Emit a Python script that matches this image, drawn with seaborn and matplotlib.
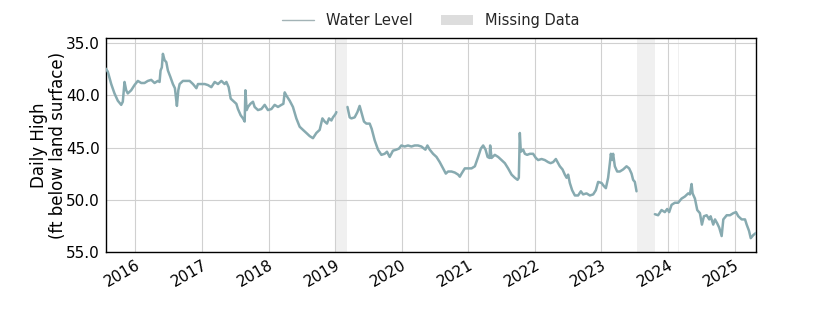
import numpy as np
import pandas as pd
import matplotlib
matplotlib.use("Agg")
import matplotlib.pyplot as plt
from matplotlib.lines import Line2D
from matplotlib.patches import Patch
import seaborn as sns

# ---- data (decimal years, ft below land surface) ----
seg1_t = [2015.549, 2015.583, 2015.635, 2015.684, 2015.734, 2015.785, 2015.809, 2015.835, 2015.860,
          2015.884, 2015.935, 2015.985, 2016.035, 2016.086, 2016.135, 2016.185, 2016.236, 2016.286,
          2016.335, 2016.361, 2016.376, 2016.395, 2016.411, 2016.436, 2016.462, 2016.486, 2016.522,
          2016.561, 2016.591, 2016.612, 2016.621, 2016.642, 2016.662, 2016.711, 2016.762, 2016.812,
          2016.862, 2016.913, 2016.937, 2016.988, 2017.038, 2017.087, 2017.138, 2017.188, 2017.238,
          2017.289, 2017.338, 2017.364, 2017.398, 2017.429, 2017.463, 2017.514, 2017.538, 2017.579,
          2017.614, 2017.639, 2017.650, 2017.669, 2017.689, 2017.725, 2017.764, 2017.789, 2017.839,
          2017.890, 2017.940, 2017.989, 2018.041, 2018.090, 2018.140, 2018.191, 2018.221, 2018.241,
          2018.266, 2018.316, 2018.365, 2018.416, 2018.466, 2018.516, 2018.567, 2018.617, 2018.666,
          2018.717, 2018.767, 2018.808, 2018.842, 2018.877, 2018.907, 2018.943, 2018.967, 2019.003,
          2019.018]
seg1_v = [37.4, 37.7, 38.9, 39.8, 40.5, 40.9, 40.6, 38.7, 39.5,
          39.8, 39.5, 39.0, 38.6, 38.8, 38.8, 38.6, 38.5, 38.8,
          38.6, 38.7, 37.6, 37.3, 36.0, 36.6, 36.8, 37.6, 38.2,
          38.9, 39.3, 40.5, 41.0, 39.5, 38.9, 38.6, 38.6, 38.6,
          38.9, 39.3, 38.9, 38.9, 38.9, 39.0, 39.2, 38.7, 38.9,
          38.6, 38.9, 38.7, 39.2, 40.3, 40.5, 40.8, 41.3, 41.9,
          42.2, 42.5, 39.5, 41.4, 41.1, 40.8, 40.6, 41.1, 41.4,
          41.3, 40.9, 41.4, 41.3, 40.9, 41.1, 40.9, 40.8, 39.7,
          40.0, 40.5, 41.1, 42.2, 43.0, 43.3, 43.6, 43.9, 44.1,
          43.6, 43.3, 42.2, 42.5, 42.7, 42.2, 42.4, 42.1, 41.8,
          41.6]

seg2_t = [2019.185, 2019.218, 2019.244, 2019.293, 2019.334, 2019.368, 2019.394, 2019.433, 2019.469,
          2019.519, 2019.549, 2019.594, 2019.644, 2019.695, 2019.744, 2019.779, 2019.820, 2019.869,
          2019.920, 2019.959, 2019.995, 2020.045, 2020.095, 2020.146, 2020.195, 2020.245, 2020.296,
          2020.335, 2020.356, 2020.386, 2020.421, 2020.471, 2020.522, 2020.571, 2020.621, 2020.662,
          2020.696, 2020.747, 2020.797, 2020.847, 2020.872, 2020.898, 2020.947, 2020.997, 2021.048,
          2021.098, 2021.147, 2021.188, 2021.223, 2021.259, 2021.289, 2021.319, 2021.328, 2021.349,
          2021.398, 2021.448, 2021.499, 2021.549, 2021.598, 2021.650, 2021.699, 2021.740, 2021.759,
          2021.774, 2021.789, 2021.824, 2021.850, 2021.884, 2021.925, 2021.974, 2022.015, 2022.050,
          2022.101, 2022.150, 2022.200, 2022.236, 2022.275, 2022.316, 2022.350, 2022.376, 2022.416,
          2022.451, 2022.477, 2022.501, 2022.526, 2022.561, 2022.602, 2022.651, 2022.692, 2022.726,
          2022.777, 2022.827, 2022.877, 2022.917, 2022.952, 2023.003, 2023.038, 2023.068, 2023.102,
          2023.128, 2023.143, 2023.162, 2023.177, 2023.203, 2023.238, 2023.278, 2023.328, 2023.379,
          2023.418, 2023.454, 2023.478, 2023.504, 2023.529]
seg2_v = [41.1, 42.1, 42.2, 42.1, 41.6, 41.0, 41.6, 42.5, 42.7,
          42.7, 43.2, 44.3, 45.2, 45.7, 45.6, 45.4, 45.9, 45.3,
          45.2, 45.1, 44.8, 44.9, 44.8, 44.9, 44.8, 44.8, 44.9,
          45.1, 45.2, 44.8, 45.2, 45.6, 45.9, 46.4, 47.0, 47.5,
          47.3, 47.3, 47.4, 47.6, 47.8, 47.5, 47.0, 47.0, 47.0,
          46.8, 45.9, 45.1, 44.8, 45.2, 45.9, 46.0, 44.8, 46.0,
          45.7, 45.9, 46.2, 46.5, 47.0, 47.6, 47.9, 48.1, 47.9,
          43.6, 45.4, 45.2, 45.6, 45.7, 45.6, 45.6, 46.0, 46.2,
          46.1, 46.2, 46.4, 46.5, 46.4, 46.1, 46.5, 46.8, 47.1,
          47.6, 47.9, 47.6, 48.4, 49.1, 49.6, 49.6, 49.2, 49.5,
          49.4, 49.6, 49.5, 49.1, 48.3, 48.4, 48.7, 48.9, 47.9,
          46.5, 45.6, 46.2, 45.6, 46.8, 47.3, 47.3, 47.1, 46.8,
          47.0, 47.5, 48.1, 48.3, 49.2]

seg3_t = [2023.805, 2023.854, 2023.905, 2023.955, 2023.990, 2024.020, 2024.056, 2024.105, 2024.155,
          2024.206, 2024.256, 2024.305, 2024.331, 2024.356, 2024.371, 2024.406, 2024.441, 2024.481,
          2024.511, 2024.541, 2024.582, 2024.621, 2024.642, 2024.681, 2024.707, 2024.742, 2024.771,
          2024.807, 2024.832, 2024.883, 2024.932, 2024.982, 2025.023, 2025.057, 2025.108, 2025.158,
          2025.183, 2025.218, 2025.244, 2025.283, 2025.323]
seg3_v = [51.4, 51.5, 51.0, 51.2, 50.9, 51.2, 50.5, 50.3, 50.3,
          49.9, 49.7, 49.4, 49.5, 48.5, 49.4, 49.9, 51.0, 51.3,
          52.4, 51.6, 51.5, 51.9, 51.6, 52.4, 51.9, 52.3, 52.7,
          53.5, 51.9, 51.5, 51.5, 51.3, 51.2, 51.6, 51.9, 51.9,
          52.4, 53.0, 53.7, 53.4, 53.2]

missing_start = [2019.018, 2023.529, 2024.158]
missing_end = [2019.183, 2023.805, 2024.172]

year_ticks = list(range(2016, 2026))
y_ticks = [35.0, 40.0, 45.0, 50.0, 55.0]


def to_date(t):
    y = int(np.floor(t))
    start = pd.Timestamp(year=y, month=1, day=1)
    end = pd.Timestamp(year=y + 1, month=1, day=1)
    return start + (end - start) * (t - y)


frames = []
for i, (ts, vs) in enumerate([(seg1_t, seg1_v), (seg2_t, seg2_v), (seg3_t, seg3_v)]):
    frames.append(pd.DataFrame({"date": [to_date(t) for t in ts], "level": vs, "segment": i}))
df = pd.concat(frames, ignore_index=True)

LINE_COLOR = "#87aab0"

sns.set_style("white")
plt.rcParams["font.family"] = ["DejaVu Sans"]

fig = plt.figure(figsize=(8.4, 3.15), dpi=100)
ax = fig.add_axes([0.1256, 0.201, 0.7744, 0.677])

for s, e in zip(missing_start, missing_end):
    ax.axvspan(to_date(s), to_date(e), color="#f0f0f0", lw=0, zorder=0)

sns.lineplot(data=df, x="date", y="level", units="segment", estimator=None,
             color=LINE_COLOR, lw=1.8, ax=ax, legend=False, zorder=3)

ax.set_xlim(df["date"].min(), df["date"].max())
ax.set_ylim(55, 34.52)
ax.set_yticks(y_ticks)
ax.set_yticklabels([f"{v:.1f}" for v in y_ticks])
ax.set_xticks([pd.Timestamp(year=y, month=1, day=1) for y in year_ticks])
ax.set_xticklabels([str(y) for y in year_ticks], rotation=30, ha="right", rotation_mode="anchor")

ax.grid(True, color="#d0d0d0", lw=0.8, zorder=1)
ax.set_axisbelow(True)
ax.tick_params(axis="both", length=0, labelsize=11, colors="black", pad=4)
for sp in ax.spines.values():
    sp.set_color("black")
    sp.set_linewidth(1.0)

ax.set_xlabel("")
ax.set_ylabel("Daily High\n(ft below land surface)", fontsize=12, color="black",
              labelpad=-1, linespacing=1.1)

handles = [Line2D([0], [0], color="#a3b3b6", lw=1.0),
           Patch(facecolor="#dddddd", edgecolor="none")]
ax.legend(handles, ["Water Level", "Missing Data"], loc="lower center",
          bbox_to_anchor=(0.5, 1.0), ncol=2, frameon=False, fontsize=10.5,
          handlelength=2.2, columnspacing=2.0, borderaxespad=0.3)

fig.savefig("out.png", dpi=100)
